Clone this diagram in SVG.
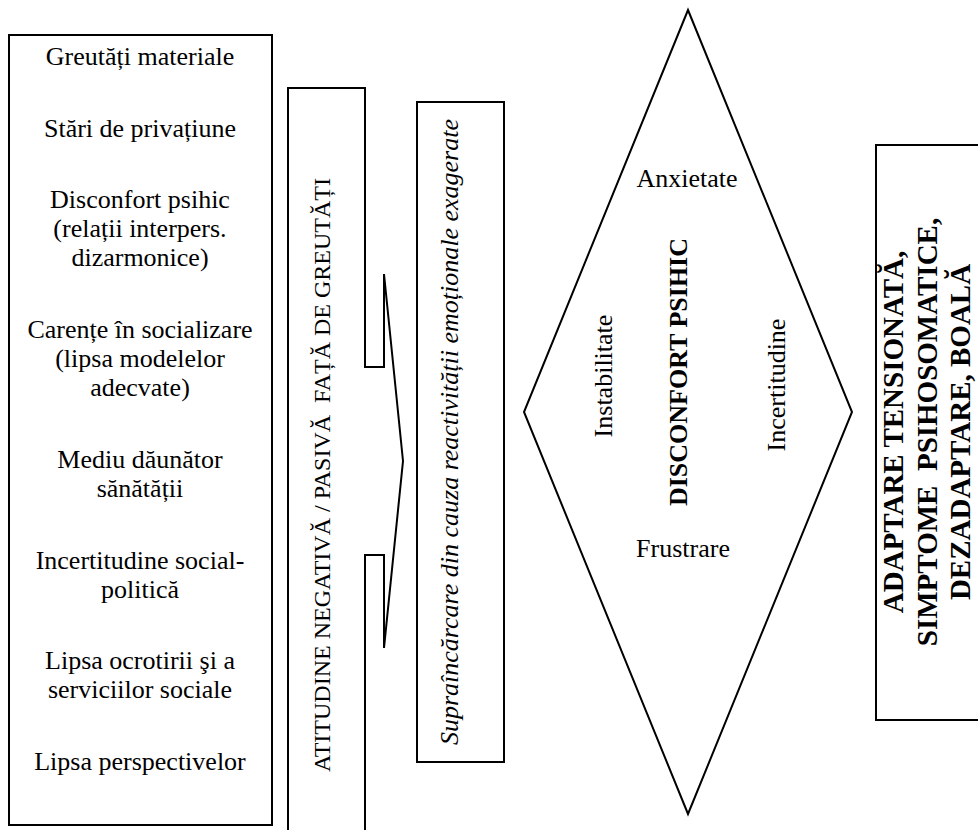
<svg xmlns="http://www.w3.org/2000/svg" width="978" height="830" viewBox="0 0 978 830">
<style>
  .bg { fill: #ffffff; }
  .box { fill: none; stroke: #000000; stroke-width: 2; }
  .t { font-family: "Liberation Serif", "Times New Roman", serif; fill: #000000; text-anchor: middle; }
  .l { font-size: 26px; }
  .r { font-size: 24px; }
  .i { font-size: 26px; font-style: italic; }
  .b { font-size: 26px; font-weight: bold; }
  .rb { font-size: 29px; font-weight: bold; }
</style>
<rect class="bg" x="0" y="0" width="978" height="830"/>

<g id="factors">
  <rect class="box" x="9" y="35" width="263" height="790"/>
  <text class="t l" x="140" y="65">Greutăți materiale</text>
  <text class="t l" x="140" y="136.7">Stări de privațiune</text>
  <text class="t l" x="140" y="208.4">Disconfort psihic</text>
  <text class="t l" x="140" y="237.4">(relații interpers.</text>
  <text class="t l" x="140" y="266.4">dizarmonice)</text>
  <text class="t l" x="140" y="338.1">Carențe în socializare</text>
  <text class="t l" x="140" y="367.1">(lipsa modelelor</text>
  <text class="t l" x="140" y="396.1">adecvate)</text>
  <text class="t l" x="140" y="467.8">Mediu dăunător</text>
  <text class="t l" x="140" y="496.8">sănătății</text>
  <text class="t l" x="140" y="568.5">Incertitudine social-</text>
  <text class="t l" x="140" y="597.5">politică</text>
  <text class="t l" x="140" y="669.2">Lipsa ocrotirii şi a</text>
  <text class="t l" x="140" y="698.2">serviciilor sociale</text>
  <text class="t l" x="140" y="769.9">Lipsa perspectivelor</text>
</g>

<g id="attitude">
  <polyline class="box" points="288,836 288,88 365,88 365,367 384,367 384,274 403,461 384,648 384,555 365,555 365,836"/>
  <text class="t r" xml:space="preserve" transform="translate(330,475) rotate(-90)">ATITUDINE NEGATIVĂ / PASIVĂ  FAȚĂ DE GREUTĂȚI</text>
</g>

<g id="overload">
  <rect class="box" x="417" y="102" width="87" height="660"/>
  <text class="t i" transform="translate(458,432) rotate(-90)">Supraîncărcare din cauza reactivității emoționale exagerate</text>
</g>

<g id="discomfort">
  <polygon class="box" points="688,10 852,412 688,814 524,412"/>
  <text class="t l" x="687" y="187">Anxietate</text>
  <text class="t l" x="683" y="557">Frustrare</text>
  <text class="t l" transform="translate(612,376) rotate(-90)">Instabilitate</text>
  <text class="t b" transform="translate(687,372) rotate(-90)">DISCONFORT PSIHIC</text>
  <text class="t l" transform="translate(785,385) rotate(-90)">Incertitudine</text>
</g>

<g id="outcome">
  <rect class="box" x="876" y="145" width="120" height="575"/>
  <text class="t rb" transform="translate(903,432) rotate(-90)">ADAPTARE TENSIONATĂ,</text>
  <text class="t rb" xml:space="preserve" transform="translate(936.5,432) rotate(-90)">SIMPTOME  PSIHOSOMATICE,</text>
  <text class="t rb" transform="translate(970,432) rotate(-90)">DEZADAPTARE, BOALĂ</text>
</g>

<g id="connectors"></g>
</svg>
